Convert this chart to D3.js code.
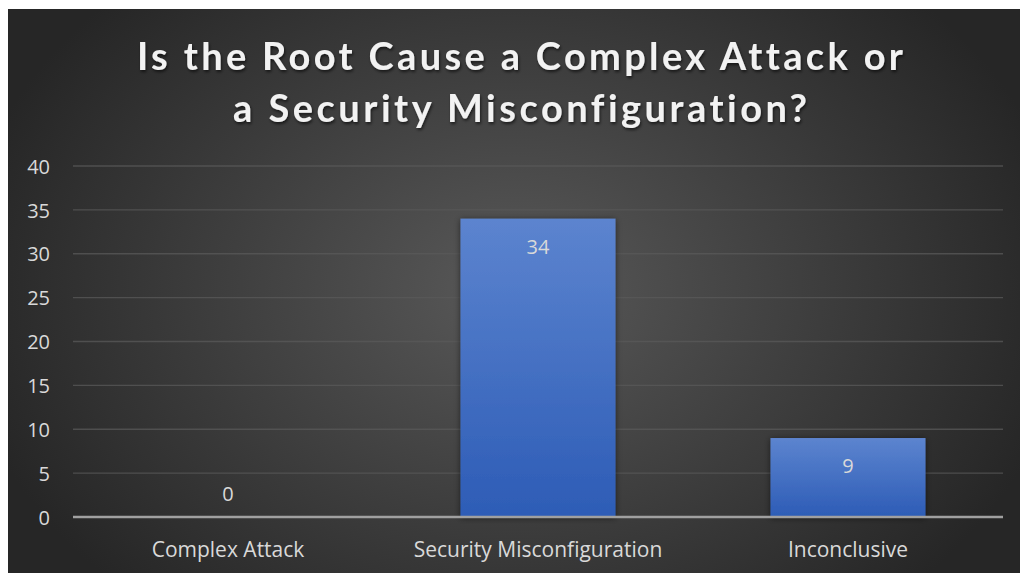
<!DOCTYPE html>
<html><head><meta charset="utf-8">
<script src="https://cdn.jsdelivr.net/npm/d3@7"></script>
<style>html,body{margin:0;padding:0;background:#fff;}svg{display:block;}text{font-variant-ligatures:none;font-feature-settings:"liga" 0,"clig" 0;}</style>
</head><body>
<svg id="c" width="1021" height="573"></svg>
<script>
const categories = ["Complex Attack", "Security Misconfiguration", "Inconclusive"];
const values = [0, 34, 9];
const yTicks = [0, 5, 10, 15, 20, 25, 30, 35, 40];
const titleLines = ["Is the Root Cause a Complex Attack or", "a Security Misconfiguration?"];

const svg = d3.select("#c");
const defs = svg.append("defs");
const bg = defs.append("radialGradient").attr("id","bg").attr("gradientUnits","userSpaceOnUse")
  .attr("cx",515).attr("cy",290).attr("r",560).attr("gradientTransform","translate(515,290) scale(1,0.75) translate(-515,-290)");
bg.append("stop").attr("offset","0%").attr("stop-color","#595959");
bg.append("stop").attr("offset","100%").attr("stop-color","#262626");
const bar = defs.append("linearGradient").attr("id","bar").attr("x1",0).attr("y1",0).attr("x2",0).attr("y2",1);
bar.append("stop").attr("offset","0%").attr("stop-color","#5c84cf");
bar.append("stop").attr("offset","100%").attr("stop-color","#2d5cb6");
const sh = defs.append("filter").attr("id","sh").attr("x","-20%").attr("y","-20%").attr("width","140%").attr("height","140%");
sh.append("feDropShadow").attr("dx",0).attr("dy",1).attr("stdDeviation",3).attr("flood-color","#000").attr("flood-opacity",0.55);
const tsh = defs.append("filter").attr("id","tsh").attr("x","-5%").attr("y","-20%").attr("width","110%").attr("height","150%");
tsh.append("feDropShadow").attr("dx",1).attr("dy",2).attr("stdDeviation",1.5).attr("flood-color","#000").attr("flood-opacity",0.6);

svg.append("rect").attr("x",8).attr("y",9).attr("width",1012).attr("height",564).attr("fill","url(#bg)");

const x = d3.scaleBand().domain(categories).range([73,1003]).paddingInner(0.5).paddingOuter(0.25);
const y = d3.scaleLinear().domain([0,40]).range([517,166]);

// gridlines
svg.append("g").selectAll("line").data(yTicks.filter(d=>d>0)).join("line")
  .attr("x1",73).attr("x2",1003).attr("y1",d=>y(d)).attr("y2",d=>y(d))
  .attr("stroke","#5a5a5a").attr("stroke-opacity",0.75).attr("stroke-width",1.3);

// y axis labels
const yAxis = d3.axisLeft(y).tickValues(yTicks).tickSize(0).tickPadding(0);
const ya = svg.append("g").attr("transform","translate(50,0)").call(yAxis);
ya.select(".domain").remove();
ya.selectAll("text").attr("font-family","Open Sans").attr("font-size",20).attr("fill","#d9d9d9").attr("dy","0.36em");

// bars
svg.append("g").selectAll("rect").data(values).join("rect")
  .attr("x",(d,i)=>x(categories[i])).attr("width",x.bandwidth())
  .attr("y",d=>y(d)).attr("height",d=>y(0)-y(d))
  .attr("fill","url(#bar)").attr("filter","url(#sh)");

// baseline axis
svg.append("line").attr("x1",73).attr("x2",1003).attr("y1",y(0)).attr("y2",y(0))
  .attr("stroke","#a0a0a0").attr("stroke-width",2.5);

// data labels
svg.append("g").selectAll("text").data(values).join("text")
  .attr("x",(d,i)=>x(categories[i])+x.bandwidth()/2)
  .attr("y",d=>d>0 ? y(d)+28 : y(0)-23)
  .attr("dy","0.36em").attr("text-anchor","middle")
  .attr("font-family","Open Sans").attr("font-size",20).attr("fill","#d9d9d9")
  .text(d=>d);

// x axis labels
const xAxis = d3.axisBottom(x).tickSize(0).tickPadding(0);
const xa = svg.append("g").attr("transform","translate(0,549)").call(xAxis);
xa.select(".domain").remove();
xa.selectAll("text").attr("font-family","Open Sans").attr("font-size",21).attr("fill","#d9d9d9").attr("dy","0.36em");

// title
const tl = [{t:titleLines[0], y:70, w:766},{t:titleLines[1], y:122, w:574}];
svg.append("g").selectAll("text").data(tl).join("text")
  .attr("x",520).attr("y",d=>d.y).attr("text-anchor","middle")
  .attr("font-family","Lato").attr("font-weight","bold").attr("font-size",38)
  .attr("fill","#f2f2f2").attr("filter","url(#tsh)")
  .attr("textLength",d=>d.w).attr("lengthAdjust","spacing")
  .text(d=>d.t);
</script>
</body></html>
